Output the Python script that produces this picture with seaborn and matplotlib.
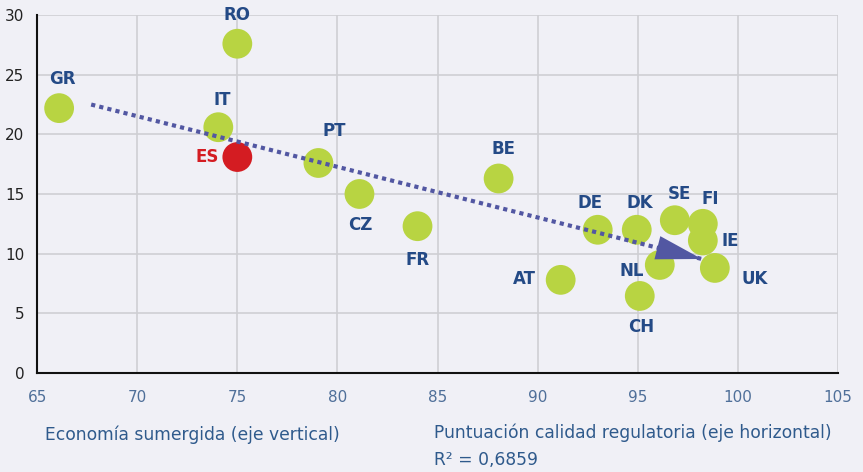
import numpy as np
import pandas as pd
import matplotlib
matplotlib.use("Agg")
import matplotlib.pyplot as plt
import seaborn as sns

# data
countries = ["GR", "RO", "IT", "ES", "PT", "CZ", "FR", "BE", "DE", "DK",
             "SE", "FI", "IE", "NL", "UK", "CH", "AT"]
regulatory_score = [66.1, 75.0, 74.05, 75.0, 79.05, 81.1, 84.0, 88.05, 93.0, 94.95,
                    96.85, 98.25, 98.25, 96.1, 98.85, 95.1, 91.15]
shadow_economy = [22.2, 27.6, 20.6, 18.1, 17.6, 15.0, 12.3, 16.3, 12.0, 12.0,
                  12.8, 12.5, 11.1, 9.05, 8.8, 6.45, 7.8]
trend_x = [67.7, 98.2]
trend_y = [22.5, 9.55]
x_ticks = [65, 70, 75, 80, 85, 90, 95, 100, 105]
y_ticks = [0, 5, 10, 15, 20, 25, 30]

# label offsets in pixels (dx, dy) relative to each point
label_offsets = {
    "GR": (3, 29), "RO": (0, 29), "IT": (4, 27), "ES": (-30, 0), "PT": (16, 32),
    "CZ": (1, -31), "FR": (0, -34), "BE": (5, 29), "DE": (-8, 27), "DK": (3, 27),
    "SE": (5, 26), "FI": (7, 25), "IE": (27, 0), "NL": (-28, -6), "UK": (40, -11),
    "CH": (1, -31), "AT": (-36, 1),
}

BG = "#f0f0f6"
GREEN = "#b8d442"
RED = "#d41c22"
NAVY = "#244a86"
LINE = "#5257a2"
TEXT_BLUE = "#2f5a8c"

df = pd.DataFrame({"country": countries, "x": regulatory_score, "y": shadow_economy})
df["group"] = np.where(df["country"] == "ES", "ES", "other")

sns.set_theme(style="whitegrid")
plt.rcParams["font.family"] = ["DejaVu Sans"]

fig = plt.figure(figsize=(8.63, 4.72), dpi=100, facecolor=BG)
ax = fig.add_axes([0.043, 0.21, 0.928, 0.758])
ax.set_facecolor(BG)

sns.scatterplot(data=df, x="x", y="y", hue="group",
                palette={"ES": RED, "other": GREEN}, s=460, linewidth=0,
                legend=False, ax=ax, zorder=3)

# dotted trend line with arrow head
ax.plot(trend_x, trend_y, color=LINE, lw=3, linestyle=(0, (1, 1)),
        dash_capstyle="butt", zorder=4)
frac = 0.93
ax.annotate("", xy=(trend_x[1], trend_y[1]),
            xytext=(trend_x[0] + frac * (trend_x[1] - trend_x[0]),
                    trend_y[0] + frac * (trend_y[1] - trend_y[0])),
            arrowprops=dict(arrowstyle="-|>,head_length=33,head_width=8.6",
                            mutation_scale=1, color=LINE, lw=0,
                            shrinkA=0, shrinkB=0),
            zorder=5)

for c, xv, yv in zip(countries, regulatory_score, shadow_economy):
    dx, dy = label_offsets[c]
    ax.annotate(c, (xv, yv), xytext=(dx, dy), textcoords="offset pixels",
                ha="center", va="center", fontsize=12, fontweight="bold",
                color=RED if c == "ES" else NAVY, zorder=6)

ax.set_xlim(65, 105)
ax.set_ylim(0, 30)
ax.set_xticks(x_ticks)
ax.set_yticks(y_ticks)
ax.set_xlabel("")
ax.set_ylabel("")
ax.grid(True, color="#cfcfd4", lw=1.2)
ax.tick_params(axis="x", colors="#4f6f99", labelsize=11, pad=12, length=0)
ax.tick_params(axis="y", colors="#222222", labelsize=11, pad=6, length=3)
for side in ["top", "right"]:
    ax.spines[side].set_visible(False)
for side in ["left", "bottom"]:
    ax.spines[side].set_color("#111111")
    ax.spines[side].set_linewidth(1.5)

fig.text(45 / 863, 1 - 435 / 472, "Economía sumergida (eje vertical)",
         ha="left", va="center", fontsize=12.3, color=TEXT_BLUE)
fig.text(434 / 863, 1 - 433 / 472, "Puntuación calidad regulatoria (eje horizontal)",
         ha="left", va="center", fontsize=12.3, color=TEXT_BLUE)
fig.text(434 / 863, 1 - 460 / 472, "R² = 0,6859",
         ha="left", va="center", fontsize=12.3, color=TEXT_BLUE)

fig.savefig("out.png", dpi=100, facecolor=BG)
